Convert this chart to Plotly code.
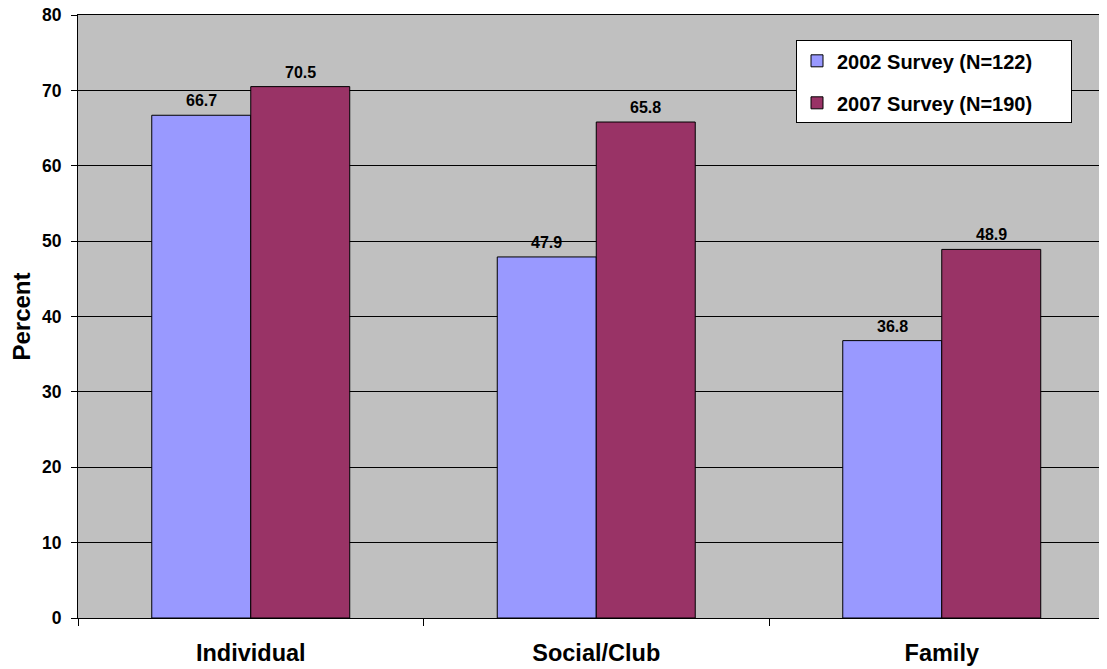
import plotly.graph_objects as go

categories = ["Individual", "Social/Club", "Family"]
series_names = ["2002 Survey (N=122)", "2007 Survey (N=190)"]
values_2002 = [66.7, 47.9, 36.8]
values_2007 = [70.5, 65.8, 48.9]
colors = ["#9999FF", "#993366"]
y_ticks = [0, 10, 20, 30, 40, 50, 60, 70, 80]

FONT = "Liberation Sans, Arial, sans-serif"
PAD = "\u00a0" * 6

fig = go.Figure()
for i, (name, vals) in enumerate(zip(series_names, [values_2002, values_2007])):
    fig.add_trace(go.Bar(
        x=categories, y=vals, name=name + PAD,
        marker=dict(color=colors[i], line=dict(color="black", width=1)),
        legendgroup=name,
    ))

# data labels
offsets = [-49.5, 49.5]
for i, vals in enumerate([values_2002, values_2007]):
    for c, v in zip(categories, vals):
        fig.add_annotation(
            x=c, y=v, text=f"<b>{v:.1f}</b>", showarrow=False,
            xshift=offsets[i], yanchor="bottom", yshift=4,
            font=dict(family=FONT, size=16, color="black"),
        )

fig.update_layout(
    width=1099, height=661,
    margin=dict(l=70, r=0, t=7, b=51),
    paper_bgcolor="white", plot_bgcolor="#C0C0C0",
    barmode="group", bargap=0.427, bargroupgap=0,
    font=dict(family=FONT, color="black"),
    showlegend=True,
    legend=dict(
        x=(796 - 78) / 1029, y=0.958, xanchor="left", yanchor="top",
        bgcolor="white", bordercolor="black", borderwidth=1,
        font=dict(family=FONT, size=20, color="black", weight="bold"),
        traceorder="grouped", tracegroupgap=13,
    ),
    xaxis=dict(
        type="category", range=[-0.5, -0.5 + 1029 / 345.5],
        showline=True, mirror=True, linecolor="black", linewidth=1,
        ticks="outside", tickson="boundaries", ticklen=7, tickcolor="black",
        showgrid=False, automargin=False, ticklabeloverflow="allow",
        tickfont=dict(family=FONT, size=23.5, color="black", weight="bold"),
        ticklabelstandoff=14,
    ),
    yaxis=dict(
        range=[0, 80], tickvals=y_ticks,
        showline=True, linecolor="black", linewidth=1,
        ticks="outside", ticklen=6, tickcolor="black",
        showgrid=True, gridcolor="black", gridwidth=1, zeroline=False,
        automargin=False, ticklabeloverflow="allow",
        tickfont=dict(family=FONT, size=17.5, color="black", weight="bold"),
        ticklabelstandoff=6,
        title=dict(text="Percent", standoff=10,
                   font=dict(family=FONT, size=24, color="black", weight="bold")),
    ),
)

fig.write_html("out.html")
